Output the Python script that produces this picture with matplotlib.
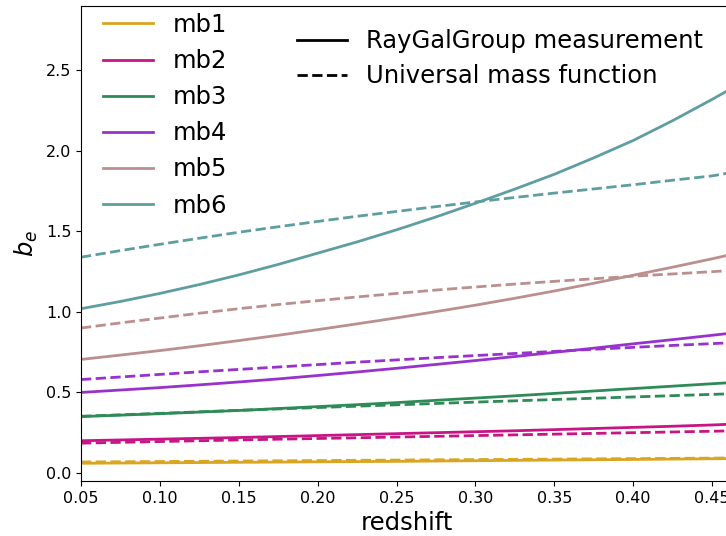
import matplotlib
matplotlib.use("Agg")
import matplotlib.pyplot as plt
from matplotlib.lines import Line2D

redshift = [0.05, 0.075, 0.10, 0.125, 0.15, 0.175, 0.20, 0.225, 0.25,
            0.275, 0.30, 0.325, 0.35, 0.375, 0.40, 0.425, 0.45, 0.46]

names = ["mb1", "mb2", "mb3", "mb4", "mb5", "mb6"]
colors = ["goldenrod", "mediumvioletred", "seagreen", "darkorchid", "rosybrown", "cadetblue"]

# RayGalGroup measurement (solid)
meas_mb1 = [0.060, 0.0615, 0.063, 0.0645, 0.066, 0.0675, 0.069, 0.0705, 0.072,
            0.074, 0.076, 0.078, 0.080, 0.082, 0.084, 0.086, 0.088, 0.089]
meas_mb2 = [0.200, 0.205, 0.210, 0.215, 0.220, 0.226, 0.232, 0.238, 0.244,
            0.250, 0.256, 0.262, 0.269, 0.276, 0.283, 0.290, 0.298, 0.302]
meas_mb3 = [0.350, 0.359, 0.368, 0.378, 0.388, 0.400, 0.412, 0.424, 0.437,
            0.451, 0.465, 0.479, 0.494, 0.509, 0.524, 0.539, 0.554, 0.560]
meas_mb4 = [0.500, 0.515, 0.530, 0.547, 0.565, 0.584, 0.605, 0.627, 0.650,
            0.674, 0.698, 0.723, 0.749, 0.775, 0.802, 0.828, 0.855, 0.866]
meas_mb5 = [0.705, 0.732, 0.760, 0.790, 0.822, 0.855, 0.890, 0.926, 0.963,
            1.002, 1.042, 1.085, 1.130, 1.178, 1.228, 1.278, 1.330, 1.352]
meas_mb6 = [1.020, 1.065, 1.115, 1.170, 1.230, 1.295, 1.365, 1.435, 1.510,
            1.590, 1.675, 1.763, 1.855, 1.957, 2.065, 2.188, 2.320, 2.375]

# Universal mass function (dashed)
umf_mb1 = [0.068, 0.0695, 0.071, 0.0725, 0.074, 0.0755, 0.077, 0.0785, 0.080,
           0.0815, 0.083, 0.0845, 0.086, 0.0875, 0.089, 0.0905, 0.092, 0.093]
umf_mb2 = [0.185, 0.190, 0.195, 0.200, 0.205, 0.2095, 0.214, 0.2185, 0.223,
           0.2275, 0.232, 0.2365, 0.241, 0.2455, 0.250, 0.2545, 0.259, 0.261]
umf_mb3 = [0.352, 0.361, 0.370, 0.3795, 0.389, 0.3975, 0.406, 0.4145, 0.423,
           0.4315, 0.440, 0.448, 0.456, 0.464, 0.472, 0.480, 0.488, 0.491]
umf_mb4 = [0.580, 0.596, 0.612, 0.628, 0.643, 0.658, 0.673, 0.688, 0.702,
           0.716, 0.729, 0.742, 0.755, 0.768, 0.780, 0.792, 0.803, 0.808]
umf_mb5 = [0.900, 0.932, 0.962, 0.992, 1.020, 1.046, 1.070, 1.093, 1.115,
           1.136, 1.155, 1.173, 1.190, 1.206, 1.222, 1.236, 1.250, 1.256]
umf_mb6 = [1.340, 1.381, 1.420, 1.458, 1.495, 1.529, 1.562, 1.594, 1.624,
           1.654, 1.683, 1.711, 1.738, 1.764, 1.790, 1.818, 1.845, 1.862]

meas = [meas_mb1, meas_mb2, meas_mb3, meas_mb4, meas_mb5, meas_mb6]
umf = [umf_mb1, umf_mb2, umf_mb3, umf_mb4, umf_mb5, umf_mb6]

fig = plt.figure(figsize=(7.26, 5.36), dpi=100)
ax = fig.add_axes([81 / 726, 1 - 481 / 536, 1 - 81 / 726 + 0.01, 475 / 536])

for name, color, m, u in zip(names, colors, meas, umf):
    ax.plot(redshift, m, color=color, lw=2, label=name)
    ax.plot(redshift, u, color=color, lw=2, ls="--")

ax.set_xlim(0.05, 0.4634)
ax.set_ylim(-0.05, 2.9)
ax.set_xticks([0.05, 0.10, 0.15, 0.20, 0.25, 0.30, 0.35, 0.40, 0.45])
ax.set_yticks([0.0, 0.5, 1.0, 1.5, 2.0, 2.5])
ax.tick_params(labelsize=11.5)
ax.spines["right"].set_visible(False)
ax.set_xlabel("redshift", fontsize=17.5)
ax.set_ylabel("$b_e$", fontsize=17.5)

leg1 = ax.legend(loc="upper left", bbox_to_anchor=(0.019, 1.006), borderaxespad=0,
                 fontsize=17.5, frameon=False, handlelength=2.05, labelspacing=0.5)
ax.add_artist(leg1)
style_handles = [Line2D([], [], color="black", lw=2),
                 Line2D([], [], color="black", lw=2, ls="--")]
ax.legend(style_handles, ["RayGalGroup measurement", "Universal mass function"],
          loc="upper left", bbox_to_anchor=(0.316, 0.972), borderaxespad=0,
          fontsize=17.5, frameon=False, handlelength=2.05, labelspacing=0.47)

fig.savefig("out.png", dpi=100)
